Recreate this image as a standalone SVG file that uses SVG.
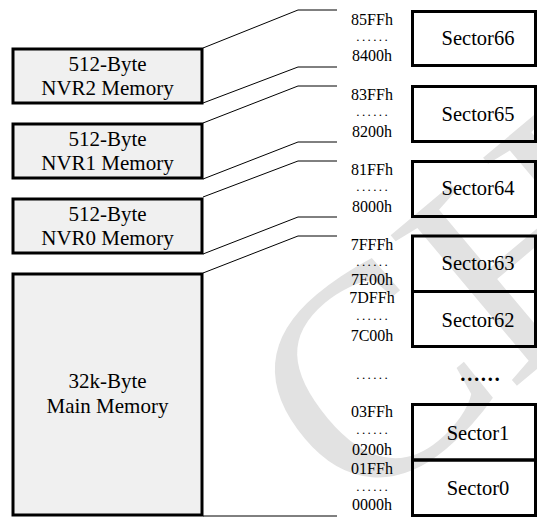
<svg xmlns="http://www.w3.org/2000/svg" width="537" height="517" viewBox="0 0 537 517">
<style>
.mem{fill:#f0f0f0;stroke:#000;stroke-width:3}
.sec{fill:none;stroke:#000;stroke-width:3}
.lbl{font-family:"Liberation Serif","Times New Roman",serif;font-size:21px;fill:#000;text-anchor:middle}
.slbl{font-family:"Liberation Serif","Times New Roman",serif;font-size:20.5px;fill:#000;text-anchor:middle}
.addr{font-family:"Liberation Serif","Times New Roman",serif;font-size:16px;fill:#000;text-anchor:middle}
.dots{font-family:"Liberation Serif","Times New Roman",serif;font-size:13px;fill:#000;text-anchor:middle;letter-spacing:2.4px}
.con{fill:none;stroke:#000;stroke-width:1}
.wm{font-family:"Liberation Serif","Times New Roman",serif;font-size:300px;fill:#e2e2e2}
</style>
<defs><clipPath id="canvas"><rect width="537" height="517"/></clipPath></defs>
<rect width="537" height="517" fill="#fff"/>
<g id="watermark" clip-path="url(#canvas)"><text class="wm" transform="translate(357,520) rotate(-40)">CH</text></g>
<g id="connectors">
<polyline class="con" points="203,48 298,10 337,10"/>
<polyline class="con" points="203,103 298,67 337,67"/>
<polyline class="con" points="203,123 298,86 337,86"/>
<polyline class="con" points="203,179 298,142 337,142"/>
<polyline class="con" points="203,197 298,161 337,161"/>
<polyline class="con" points="203,254 298,217 337,217"/>
<polyline class="con" points="203,273 298,236 337,236"/>
<polyline class="con" points="203,516 337,516"/>
</g>
<g id="nvr2"><rect class="mem" x="13" y="49" width="189" height="54"/><text class="lbl" x="107.5" y="71">512-Byte</text><text class="lbl" x="107.5" y="95">NVR2 Memory</text></g>
<g id="nvr1"><rect class="mem" x="13" y="124" width="189" height="54"/><text class="lbl" x="107.5" y="146">512-Byte</text><text class="lbl" x="107.5" y="170">NVR1 Memory</text></g>
<g id="nvr0"><rect class="mem" x="13" y="199" width="189" height="54"/><text class="lbl" x="107.5" y="221">512-Byte</text><text class="lbl" x="107.5" y="245">NVR0 Memory</text></g>
<g id="main"><rect class="mem" x="13" y="274" width="189" height="241"/><text class="lbl" x="107.5" y="388">32k-Byte</text><text class="lbl" x="107.5" y="413">Main Memory</text></g>
<g id="addresses">
<text class="addr" x="372" y="25">85FFh</text><text class="dots" x="373.2" y="41">......</text><text class="addr" x="372" y="61">8400h</text>
<text class="addr" x="372" y="100">83FFh</text><text class="dots" x="373.2" y="116">......</text><text class="addr" x="372" y="137">8200h</text>
<text class="addr" x="372" y="175">81FFh</text><text class="dots" x="373.2" y="191">......</text><text class="addr" x="372" y="212">8000h</text>
<text class="addr" x="372" y="250">7FFFh</text><text class="dots" x="373.2" y="266">......</text><text class="addr" x="372" y="285">7E00h</text>
<text class="addr" x="372" y="303">7DFFh</text><text class="dots" x="373.2" y="320">......</text><text class="addr" x="372" y="341">7C00h</text>
<text class="dots" x="373.2" y="379">......</text>
<text class="addr" x="372" y="417">03FFh</text><text class="dots" x="373.2" y="434">......</text><text class="addr" x="372" y="455">0200h</text>
<text class="addr" x="372" y="474">01FFh</text><text class="dots" x="373.2" y="491">......</text><text class="addr" x="372" y="510">0000h</text>
</g>
<g id="sector66"><rect class="sec" x="412.5" y="11.5" width="123" height="54"/><text class="slbl" x="478" y="45">Sector66</text></g>
<g id="sector65"><rect class="sec" x="412.5" y="86.5" width="123" height="55"/><text class="slbl" x="478" y="121">Sector65</text></g>
<g id="sector64"><rect class="sec" x="412.5" y="161.5" width="123" height="55"/><text class="slbl" x="478" y="195">Sector64</text></g>
<g id="sector63"><rect class="sec" x="412.5" y="236" width="123" height="55.5"/><text class="slbl" x="478" y="270">Sector63</text></g>
<g id="sector62"><rect class="sec" x="412.5" y="291.5" width="123" height="55"/><text class="slbl" x="478" y="327">Sector62</text></g>
<g id="sector-gap"><text class="slbl" x="480" y="381" font-weight="bold">……</text></g>
<g id="sector1"><rect class="sec" x="412.5" y="404.5" width="123" height="55.5"/><text class="slbl" x="478" y="440">Sector1</text></g>
<g id="sector0"><rect class="sec" x="412.5" y="460" width="123" height="55.5"/><text class="slbl" x="478" y="495">Sector0</text></g>
</svg>
